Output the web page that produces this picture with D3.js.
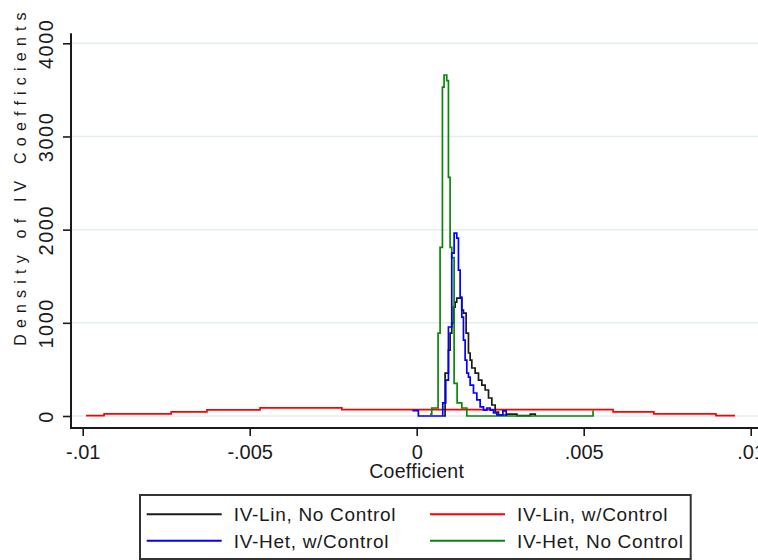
<!DOCTYPE html>
<html>
<head>
<meta charset="utf-8">
<script src="https://cdn.jsdelivr.net/npm/d3@7"></script>
<style>
  html, body { margin: 0; padding: 0; background: #fff; }
  svg { display: block; }
  text { font-family: "Liberation Sans", Arial, sans-serif; fill: #1a1a1a; }
</style>
</head>
<body>
<div id="chart"></div>
<script>
// ---- Data ----
const seriesNames = ["IV-Lin, No Control", "IV-Lin, w/Control", "IV-Het, w/Control", "IV-Het, No Control"];
const seriesColors = ["#1a1a1a", "#ff0000", "#0000ff", "#0a870a"];

// IV-Lin, No Control (black): coefficient, density
const linNoX = [0.00080, 0.00085, 0.00095, 0.00100, 0.00105, 0.00110, 0.00115, 0.00120, 0.00135, 0.00140, 0.00148, 0.00155, 0.00160, 0.00165, 0.00175, 0.00185, 0.00195, 0.00205, 0.00215, 0.00225, 0.00235, 0.00245, 0.00270, 0.00300, 0.00340, 0.00355];
const linNoY = [0, 461, 708, 890, 997, 1169, 1223, 1265, 1137, 1105, 890, 676, 600, 515, 461, 386, 332, 279, 193, 118, 43, 11, 20, 5, 20, 0];

// IV-Lin, w/Control (red)
const linWX = [-0.00990, -0.00936, -0.00735, -0.00628, -0.00469, -0.00224, 0.00588, 0.00710, 0.00896, 0.00953];
const linWY = [5, 22, 45, 65, 88, 68, 45, 22, 5, 5];

// IV-Het, w/Control (blue)
const hetWX = [-0.00013, 0.00005, 0.00078, 0.00087, 0.00095, 0.00105, 0.00112, 0.00120, 0.00125, 0.00130, 0.00135, 0.00140, 0.00145, 0.00150, 0.00155, 0.00160, 0.00170, 0.00180, 0.00190, 0.00200, 0.00210, 0.00220, 0.00230, 0.00240, 0.00258, 0.00268];
const hetWY = [57, 0, 140, 386, 955, 1748, 1962, 1909, 1566, 1276, 1062, 815, 600, 461, 418, 332, 247, 172, 97, 64, 86, 64, 32, 11, 54, 0];

// IV-Het, No Control (green)
const hetNoX = [0.00040, 0.00045, 0.00064, 0.00070, 0.00077, 0.00082, 0.00090, 0.00095, 0.00100, 0.00105, 0.00112, 0.00121, 0.00135, 0.00150, 0.00528];
const hetNoY = [20, 86, 890, 1810, 3530, 3660, 3600, 2560, 1810, 1700, 350, 140, 86, 0, 60];

const xTicks = [-0.01, -0.005, 0, 0.005, 0.01];
const xTickLabels = ["-.01", "-.005", "0", ".005", ".01"];
const yTicks = [0, 1000, 2000, 3000, 4000];
const yTickLabels = ["0", "1000", "2000", "3000", "4000"];

const xTitle = "Coefficient";
const yTitle = "Density of IV Coefficients";

// ---- Drawing ----
const W = 758, H = 560;
const svg = d3.select("#chart").append("svg").attr("width", W).attr("height", H);
svg.append("rect").attr("width", W).attr("height", H).attr("fill", "#fff");

const x = d3.scaleLinear().domain([-0.01, 0.01]).range([82.7, 750.7]);
const y = d3.scaleLinear().domain([0, 4000]).range([416, 43.3]);

const xLeft = x(-0.01035), xRight = W;
const yTop = y(4107), yBottom = y(-129);

// grid lines
svg.append("g").selectAll("line").data(yTicks).join("line")
  .attr("x1", xLeft).attr("x2", xRight)
  .attr("y1", d => y(d)).attr("y2", d => y(d))
  .attr("stroke", "#e4edf2").attr("stroke-width", 1.5);

// series
const series = [
  { name: seriesNames[1], color: seriesColors[1], xs: linWX, ys: linWY },
  { name: seriesNames[0], color: seriesColors[0], xs: linNoX, ys: linNoY },
  { name: seriesNames[3], color: seriesColors[3], xs: hetNoX, ys: hetNoY },
  { name: seriesNames[2], color: seriesColors[2], xs: hetWX, ys: hetWY }
];
const line = d3.line().x(d => x(d[0])).y(d => y(d[1])).curve(d3.curveStepAfter);
svg.append("g").selectAll("path").data(series).join("path")
  .attr("d", s => line(s.xs.map((v, i) => [v, s.ys[i]])))
  .attr("fill", "none")
  .attr("stroke", s => s.color)
  .attr("stroke-width", 1.7);

// Y axis
const yAxis = d3.axisLeft(y).tickValues(yTicks).tickSize(8).tickFormat((d, i) => yTickLabels[i]);
const gy = svg.append("g").attr("transform", `translate(${xLeft},0)`).call(yAxis);
gy.select(".domain").remove();
gy.selectAll(".tick line").attr("stroke", "#1a1a1a").attr("stroke-width", 1.6);
gy.selectAll(".tick text")
  .attr("x", null).attr("dy", null)
  .attr("transform", "translate(-18,0) rotate(-90)")
  .attr("text-anchor", "middle")
  .style("font-size", "20px")
  .style("letter-spacing", "1.5px")
  .attr("fill", "#1a1a1a");
svg.append("line").attr("x1", xLeft).attr("x2", xLeft).attr("y1", yTop).attr("y2", yBottom + 1)
  .attr("stroke", "#1a1a1a").attr("stroke-width", 2);

// X axis
const xAxis = d3.axisBottom(x).tickValues(xTicks).tickSize(8).tickFormat((d, i) => xTickLabels[i]);
const gx = svg.append("g").attr("transform", `translate(0,${yBottom})`).call(xAxis);
gx.select(".domain").remove();
gx.selectAll(".tick line").attr("stroke", "#1a1a1a").attr("stroke-width", 1.6);
gx.selectAll(".tick text")
  .attr("y", 31).attr("dy", null)
  .style("font-size", "20px")
  .attr("fill", "#1a1a1a");
svg.append("line").attr("x1", xLeft - 1).attr("x2", xRight).attr("y1", yBottom).attr("y2", yBottom)
  .attr("stroke", "#1a1a1a").attr("stroke-width", 2);

// axis titles
svg.append("text").attr("x", x(0)).attr("y", 478).attr("text-anchor", "middle")
  .style("font-size", "19.5px").style("letter-spacing", "0.3px").text(xTitle);
svg.append("text").attr("transform", "translate(26,176) rotate(-90)").attr("text-anchor", "middle")
  .style("font-size", "16px").style("letter-spacing", "6.2px").text(yTitle);

// legend
const legend = svg.append("g");
legend.append("rect").attr("x", 140).attr("y", 495).attr("width", 550.7).attr("height", 64)
  .attr("fill", "#fff").attr("stroke", "#333").attr("stroke-width", 2);
const legendItems = [
  { name: seriesNames[0], color: seriesColors[0], col: 0, row: 0 },
  { name: seriesNames[1], color: seriesColors[1], col: 1, row: 0 },
  { name: seriesNames[2], color: seriesColors[2], col: 0, row: 1 },
  { name: seriesNames[3], color: seriesColors[3], col: 1, row: 1 }
];
const colX = [146.7, 430];
const rowY = [514.3, 540.7];
const li = legend.selectAll("g.item").data(legendItems).join("g").attr("class", "item")
  .attr("transform", d => `translate(${colX[d.col]},${rowY[d.row]})`);
li.append("line").attr("x1", 0).attr("x2", 75).attr("y1", 0).attr("y2", 0)
  .attr("stroke", d => d.color).attr("stroke-width", 2);
li.append("text").attr("x", 87).attr("y", 7).style("font-size", "19px").style("letter-spacing", "0.7px").text(d => d.name);
</script>
</body>
</html>
